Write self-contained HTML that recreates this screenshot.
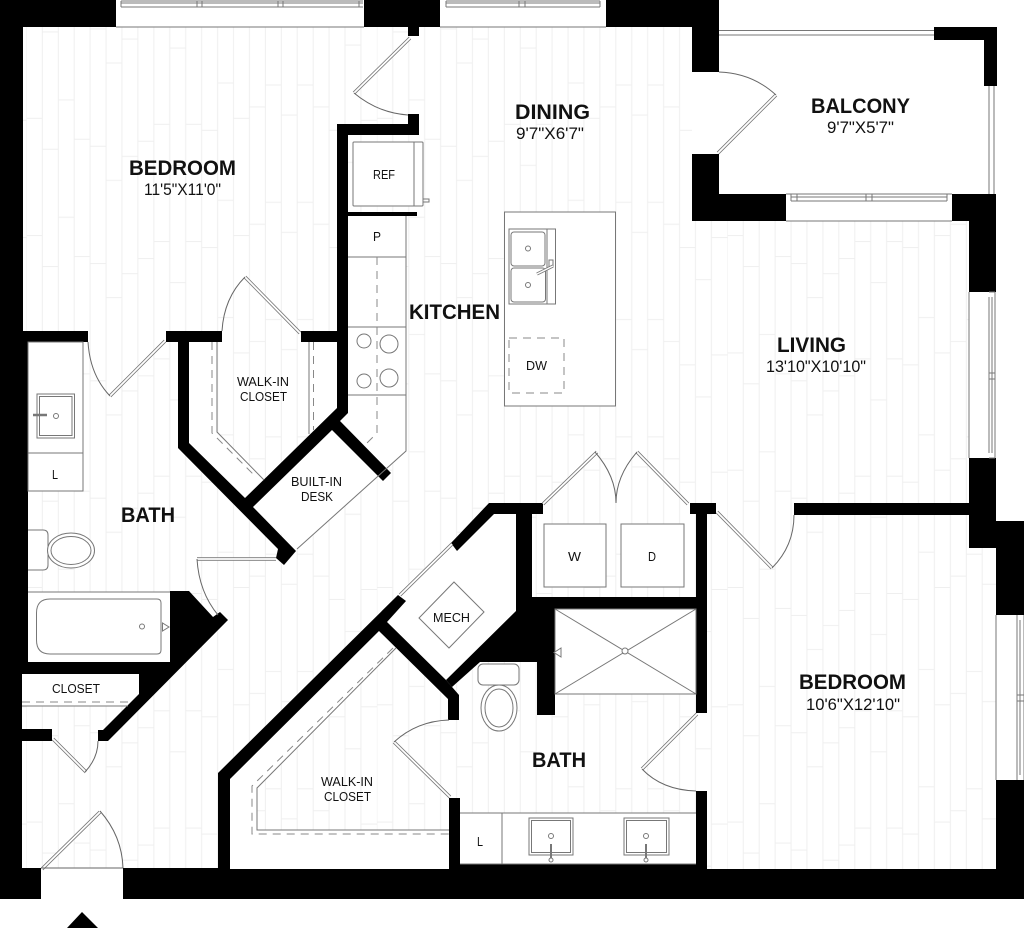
<!DOCTYPE html>
<html><head><meta charset="utf-8"><style>
html,body{margin:0;padding:0;background:#fff}
svg{display:block}
text{font-family:"Liberation Sans",sans-serif;fill:#111}
.b{font-weight:bold;font-size:21px}
.d{font-size:16.5px}
.s{font-size:12.5px}
.t{fill:none;stroke:#777;stroke-width:1}
.w{fill:#fff;stroke:#777;stroke-width:1}
.dash{fill:none;stroke:#888;stroke-width:1;stroke-dasharray:8 6}
.arc{fill:none;stroke:#666;stroke-width:1}
.la{stroke:#777;stroke-width:3.4;fill:none}
.lb{stroke:#fff;stroke-width:1.8;fill:none}
</style></head><body>
<svg width="1024" height="929" viewBox="0 0 1024 929" xmlns="http://www.w3.org/2000/svg">
<defs>
<pattern id="fl" patternUnits="userSpaceOnUse" x="26.4" y="0" width="350.46" height="117.3">
<g stroke="#efefef" stroke-width="1" fill="none">
<path d="M0 0V117.3M15.93 0V117.3M31.86 0V117.3M47.79 0V117.3M63.72 0V117.3M79.65 0V117.3M95.58 0V117.3M111.51 0V117.3M127.44 0V117.3M143.37 0V117.3M159.3 0V117.3M175.23 0V117.3M191.16 0V117.3M207.09 0V117.3M223.02 0V117.3M238.95 0V117.3M254.88 0V117.3M270.81 0V117.3M286.74 0V117.3M302.67 0V117.3M318.6 0V117.3M334.53 0V117.3"/>
<path d="M0 1H15.93M15.93 32H31.86M31.86 100H47.79M47.79 22H63.72M63.72 29H79.65M79.65 63H95.58M95.58 39H111.51M111.51 24H127.44M127.44 7H143.37M143.37 48H159.3M159.3 7H175.23M175.23 13H191.16M191.16 83H207.09M207.09 1H223.02M223.02 107H238.95M238.95 85H254.88M254.88 115H270.81M270.81 85H286.74M286.74 107H302.67M302.67 13H318.6M318.6 45H334.53M334.53 3H350.46"/>
</g>
</pattern>
</defs>
<rect width="1024" height="929" fill="#fff"/>
<rect x="0" y="27" width="1024" height="842" fill="url(#fl)"/>

<!-- non-floor white areas -->
<g fill="#fff">
<rect x="692" y="0" width="332" height="221"/>
<rect x="996" y="221" width="28" height="300"/>
<rect x="0" y="0" width="1024" height="27"/>
<rect x="969" y="292" width="27" height="166"/>
<rect x="996" y="615" width="28" height="165"/>
<rect x="22" y="674" width="120" height="32"/>
<rect x="28" y="342" width="55" height="149"/>
<rect x="28" y="592" width="142" height="70"/>
<polygon points="348,216 406,216 406,451 297,549 253,507 332,430 340,421 348,413"/>
<polygon points="398,595 451,543 494,514 516,514 516,611 446,680 387,622"/>
<polygon points="230,779 379,631 396,648 257,787 257,830 449,830 449,869 230,869"/>
<polygon points="189,342 217,342 217,432 264,480 245,498 189,443"/>
<polygon points="309,342 337,342 337,408 309,434"/>
<rect x="555" y="609" width="141" height="85"/>
<rect x="460" y="813" width="236" height="52"/>
<rect x="41" y="868" width="82" height="31"/>
</g>

<!-- walls -->
<g fill="#000">
<polygon points="0,0 116,0 116,27 23,27 23,331 88,331 88,342 28,342 28,662 170,662 170,591 189,591 213,617 220,612 228,620 108,741 98,741 98,730 103,730 139,694 139,674 22,674 22,729 52,729 52,741 22,741 22,868 41,868 41,899 0,899"/>
<rect x="364" y="0" width="76" height="27"/>
<rect x="408" y="27" width="11" height="9"/>
<polygon points="606,0 719,0 719,72 692,72 692,27 606,27"/>
<polygon points="692,154 719,154 719,194 786,194 786,221 692,221"/>
<polygon points="934,27 997,27 997,86 984,86 984,40 934,40"/>
<polygon points="952,194 996,194 996,292 969,292 969,221 952,221"/>
<polygon points="969,458 996,458 996,521 1024,521 1024,615 996,615 996,548 969,548"/>
<rect x="794" y="503" width="175" height="12"/>
<rect x="996" y="780" width="28" height="119"/>
<polygon points="123,868 218,868 218,773 398,595 406,601 387,622 446,680 459,695 459,720 448,720 448,699 379,631 230,779 230,869 449,869 449,798 460,798 460,864 696,864 696,791 707,791 707,869 1024,869 1024,899 123,899"/>
<polygon points="489,503 543,503 543,514 532,514 532,597 696,597 696,609 555,609 555,715 537,715 537,662 480,662 452,687 446,680 516,611 516,514 494,514 457,551 451,543"/>
<polygon points="690,503 716,503 716,514 707,514 707,713 696,713 696,514 690,514"/>
<rect x="166" y="331" width="56" height="11"/>
<polygon points="178,342 189,342 189,443 245,498 337,408 337,124 408,124 408,114 419,114 419,135 348,135 348,413 340,421 391,473 383,481 332,430 253,507 296,551 284,565 276,558 278,549 178,448"/>
<rect x="301" y="331" width="36" height="11"/>
<rect x="348" y="212" width="69" height="4"/>
</g>

<!-- windows -->
<g>
<g class="t">
<path d="M116 27H364M440 27H606M786 221H952M969 292V458M996 615V780M969 292V458"/>
<path d="M121 1H363M121 3H363M121 7H363M197 1V7M202 1V7M278 1V7M283 1V7M359 1V7M121 1V7"/>
<path d="M446 1H600M446 3H600M446 7H600M519 1V7M525 1V7M600 1V7M446 1V7"/>
<path d="M719 30.5H934M719 35H934"/>
<path d="M989 86V194M994 86V194"/>
<path d="M786 194H952M791 197H947M791 201H947M791 194V201M797 194V201M866 194V201M872 194V201M947 194V201"/>
<path d="M989 292H995M989 458H995M989 297V453M995 292V458M992 297V453M989 373H995M989 379H995"/>
<path d="M1017 615V780M1024 615V780M1020 620V775M1017 695H1024M1017 701H1024"/>
</g>
</g>

<!-- doors -->
<g>
<path class="la" d="M410 38L354 93M165 341L110 396M245 277L300 333M718 153L776 95M197 559H276M400 595L452 544M42 869L100 812M53 739L86 772M394 742L450 797M543 504L597 452M688 504L637 452M717 512L772 568M697 714L642 769"/>
<path class="lb" d="M410 38L354 93M165 341L110 396M245 277L300 333M718 153L776 95M197 559H276M400 595L452 544M42 869L100 812M53 739L86 772M394 742L450 797M543 504L597 452M688 504L637 452M717 512L772 568M697 714L642 769"/>
<path class="arc" d="M354 93Q378 113 408 115M88 342Q90 375 110 396M245 277Q224 298 222 331M719 72Q752 73 776 95M197 559Q199 592 218 615M100 811Q122 836 123 868M85 772Q98 758 98 741M394 742Q417 721 449 720M595 452Q616 476 616 503M637 452Q616 476 616 503M772 568Q794 546 794 515M642 769Q662 790 696 791M41 868H123"/>
</g>

<!-- kitchen wall units -->
<g class="t">
<path d="M406 216V451L297 549M348 257H406M348 327H406M348 395H406"/>
<rect x="353" y="142" width="70" height="64" rx="1" fill="#fff"/>
<path d="M414 142V206"/>
<rect x="423" y="199" width="6" height="3"/>
<circle cx="364" cy="341" r="7"/><circle cx="389" cy="344" r="9"/>
<circle cx="364" cy="381" r="7"/><circle cx="389" cy="378" r="9"/>
</g>
<path class="dash" d="M377 257V433L364 446"/>

<!-- walk-in upper -->
<path class="t" d="M217 342V432L264 480M309 342V434"/>
<path class="dash" d="M212 342V433L256 477M313.5 342V430"/>

<!-- island -->
<rect class="w" x="504.5" y="212" width="111" height="194"/>
<g class="t">
<rect x="509" y="229" width="46.5" height="75"/>
<path d="M547 229V304"/>
<rect x="511" y="232" width="34" height="34" rx="3"/>
<rect x="511" y="268" width="34.5" height="34" rx="3"/>
<circle cx="528" cy="248.500" r="2.500"/><circle cx="528" cy="285" r="2.500"/>
<rect x="549" y="260" width="4" height="7"/>
</g>
<path d="M537 274L553 266" stroke="#777" stroke-width="3" fill="none"/>
<path d="M537 274L553 266" stroke="#fff" stroke-width="1.400" fill="none"/>
<rect class="dash" x="509" y="338" width="55" height="55"/>

<!-- left bath -->
<g class="t">
<rect x="28" y="342" width="55" height="149"/>
<path d="M28 453H83"/>
<rect x="37" y="394" width="37.500" height="44"/>
<rect x="39.500" y="396.500" width="32.500" height="39"/>
<circle cx="56" cy="416" r="2.500"/>
<path d="M28 530H43Q48 530 48 535V565Q48 570 43 570H28" fill="#fff"/>
<ellipse cx="71" cy="550.500" rx="23.500" ry="17.500" fill="#fff"/>
<ellipse cx="71" cy="550.500" rx="20" ry="14"/>
<path d="M28 592H170"/>
<path d="M50 599H157Q161 599 161 603V650Q161 654 157 654H50Q36.500 654 36.500 640V613Q36.500 599 50 599Z"/>
<circle cx="142" cy="626.500" r="2.500"/>
<path d="M162.500 623V631L169 627Z"/>
</g>
<path d="M33 415H47" stroke="#777" stroke-width="2.500"/>

<!-- closet -->
<path class="t" d="M22 706H128"/>
<path class="dash" d="M22 702H132"/>

<!-- walk-in lower -->
<path class="t" d="M396 648L257 788V830H449"/>
<path class="dash" d="M393 648L252 786V834H449"/>

<!-- mech -->
<polygon class="w" points="454,582 484,612 449,648 419,618"/>

<!-- laundry -->
<rect class="w" x="544" y="524" width="62" height="63"/>
<rect class="w" x="621" y="524" width="63" height="63"/>

<!-- shower -->
<g class="t">
<rect x="555" y="609" width="141" height="85"/>
<path d="M555 609L696 694M696 609L555 694"/>
<circle cx="625" cy="651" r="3" fill="#fff"/>
<path d="M554 652.500L561 648V657Z" fill="#fff"/>
</g>

<!-- right bath -->
<g class="t">
<rect x="478" y="664" width="41" height="21" rx="5" fill="#fff"/>
<ellipse cx="499" cy="708" rx="18" ry="23" fill="#fff"/>
<ellipse cx="499" cy="708" rx="14" ry="19"/>
<path d="M460 813H696M502 813V864M460 864H696"/>
<rect x="529" y="818" width="44" height="37"/><rect x="531.500" y="820.500" width="39" height="32"/>
<rect x="624" y="818" width="45" height="37"/><rect x="626.500" y="820.500" width="40" height="32"/>
<circle cx="551" cy="836" r="2.500"/><circle cx="646" cy="836" r="2.500"/>
<circle cx="551" cy="860" r="2"/><circle cx="646" cy="860" r="2"/>
</g>
<path d="M551 844V858M646 844V858" stroke="#777" stroke-width="2"/>

<!-- entry arrow -->
<polygon points="67,928 82,912 98,928" fill="#000"/>

<!-- labels -->
<g lengthAdjust="spacingAndGlyphs">
<text class="b" x="129" y="175" textLength="107" lengthAdjust="spacingAndGlyphs">BEDROOM</text>
<text class="d" x="144" y="195" textLength="77" lengthAdjust="spacingAndGlyphs">11'5"X11'0"</text>
<text class="b" x="409" y="319" textLength="91" lengthAdjust="spacingAndGlyphs">KITCHEN</text>
<text class="b" x="515" y="119" textLength="75" lengthAdjust="spacingAndGlyphs">DINING</text>
<text class="d" x="516" y="139" textLength="68" lengthAdjust="spacingAndGlyphs">9'7"X6'7"</text>
<text class="b" x="811" y="113" textLength="99" lengthAdjust="spacingAndGlyphs">BALCONY</text>
<text class="d" x="827" y="133" textLength="67" lengthAdjust="spacingAndGlyphs">9'7"X5'7"</text>
<text class="b" x="777" y="352" textLength="69" lengthAdjust="spacingAndGlyphs">LIVING</text>
<text class="d" x="766" y="372" textLength="100" lengthAdjust="spacingAndGlyphs">13'10"X10'10"</text>
<text class="b" x="121" y="522" textLength="54" lengthAdjust="spacingAndGlyphs">BATH</text>
<text class="b" x="799" y="689" textLength="107" lengthAdjust="spacingAndGlyphs">BEDROOM</text>
<text class="d" x="806" y="710" textLength="94" lengthAdjust="spacingAndGlyphs">10'6"X12'10"</text>
<text class="b" x="532" y="767" textLength="54" lengthAdjust="spacingAndGlyphs">BATH</text>
<text class="s" x="237" y="386" textLength="52" lengthAdjust="spacingAndGlyphs">WALK-IN</text>
<text class="s" x="240" y="401" textLength="47" lengthAdjust="spacingAndGlyphs">CLOSET</text>
<text class="s" x="291" y="486" textLength="51" lengthAdjust="spacingAndGlyphs">BUILT-IN</text>
<text class="s" x="301" y="501" textLength="32" lengthAdjust="spacingAndGlyphs">DESK</text>
<text class="s" x="321" y="786" textLength="52" lengthAdjust="spacingAndGlyphs">WALK-IN</text>
<text class="s" x="324" y="801" textLength="47" lengthAdjust="spacingAndGlyphs">CLOSET</text>
<text class="s" x="52" y="693" textLength="48" lengthAdjust="spacingAndGlyphs">CLOSET</text>
<text class="s" x="433" y="622" textLength="37" lengthAdjust="spacingAndGlyphs">MECH</text>
<text class="s" x="373" y="179" textLength="22" lengthAdjust="spacingAndGlyphs">REF</text>
<text class="s" x="373" y="241" textLength="8" lengthAdjust="spacingAndGlyphs">P</text>
<text class="s" x="52" y="479" textLength="6" lengthAdjust="spacingAndGlyphs">L</text>
<text class="s" x="477" y="846" textLength="6" lengthAdjust="spacingAndGlyphs">L</text>
<text class="s" x="568" y="561" textLength="13" lengthAdjust="spacingAndGlyphs">W</text>
<text class="s" x="648" y="561" textLength="8" lengthAdjust="spacingAndGlyphs">D</text>
<text class="s" x="526" y="370" textLength="21" lengthAdjust="spacingAndGlyphs">DW</text>
</g>
</svg>
</body></html>
